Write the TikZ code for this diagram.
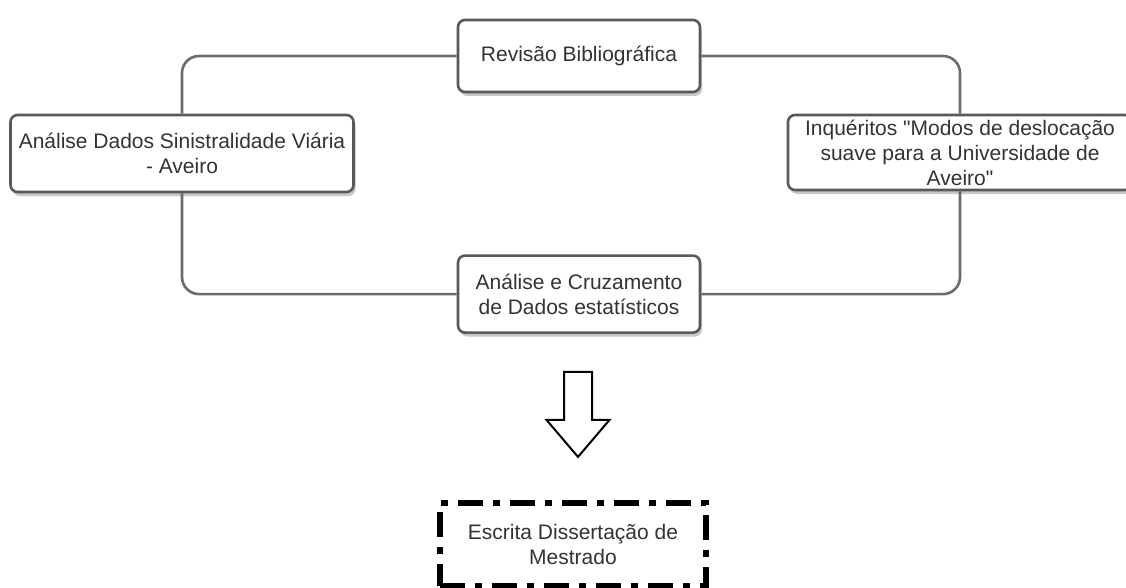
\documentclass[tikz,border=0pt]{standalone}
\usepackage{fontspec}
\setmainfont{Liberation Sans}[Ligatures=TeXOff]
\usepackage{tikz}
\usetikzlibrary{positioning,shadows,calc}
\definecolor{ink}{HTML}{333333}
\definecolor{edge}{HTML}{595959}
\definecolor{wire}{HTML}{6B6B6B}
\definecolor{shade}{HTML}{9A9A9A}
\tikzset{
  box/.style={draw=edge,fill=white,line width=2.6pt,rounded corners=7pt,align=center,text=ink,inner sep=2pt,
    drop shadow={shadow xshift=2pt,shadow yshift=-4pt,fill=shade,opacity=.55}},
  dashbox/.style={draw=black,line width=6pt,dash pattern=on 25pt off 10pt on 7pt off 10pt,align=center,text=ink,
    minimum width=266pt,minimum height=83pt},
  link/.style={draw=wire,line width=2.6pt,rounded corners=17pt},
  bigarrow/.style={draw=black,line width=2pt,fill=white,line join=miter}}

\begin{document}
\begin{tikzpicture}[x=1pt,y=-1pt,font=\fontsize{21}{25}\selectfont]
  \useasboundingbox (0,0) rectangle (1126,588);
  \node[box,minimum width=242pt,minimum height=72pt] (rev) at (579,56) {Revisão Bibliográfica};
  \node[box,minimum width=242pt,minimum height=77pt,below=161pt of rev] (cruz) {Análise e Cruzamento\\de Dados estatísticos};
  \node[box,minimum width=343pt,minimum height=77pt] (dados) at (182,153.5) {Análise Dados Sinistralidade Viária\\- Aveiro};
  \node[box,minimum width=344pt,minimum height=75pt] (inq) at (960,152.5) {Inquéritos "Modos de deslocação\\suave para a Universidade de\\Aveiro"};
  \node[dashbox] (esc) at (573,544.5) {Escrita Dissertação de\\Mestrado};
  % ciclo
  \draw[link] (rev.west) -| (dados.north);
  \draw[link] (dados.south) |- (cruz.west);
  \draw[link] (rev.east) -| (inq.north);
  \draw[link] (inq.south) |- (cruz.east);
  % seta para a escrita
  \coordinate (atop) at ($(cruz.south)+(-1,38)$);
  \draw[bigarrow] (atop) ++(-14,0) -- ++(28,0) -- ++(0,48) -- ++(17.5,0) -- ($(atop)+(0,85)$)
    -- ++(-31.5,-37) -- ++(17.5,0) -- cycle;
\end{tikzpicture}
\end{document}
